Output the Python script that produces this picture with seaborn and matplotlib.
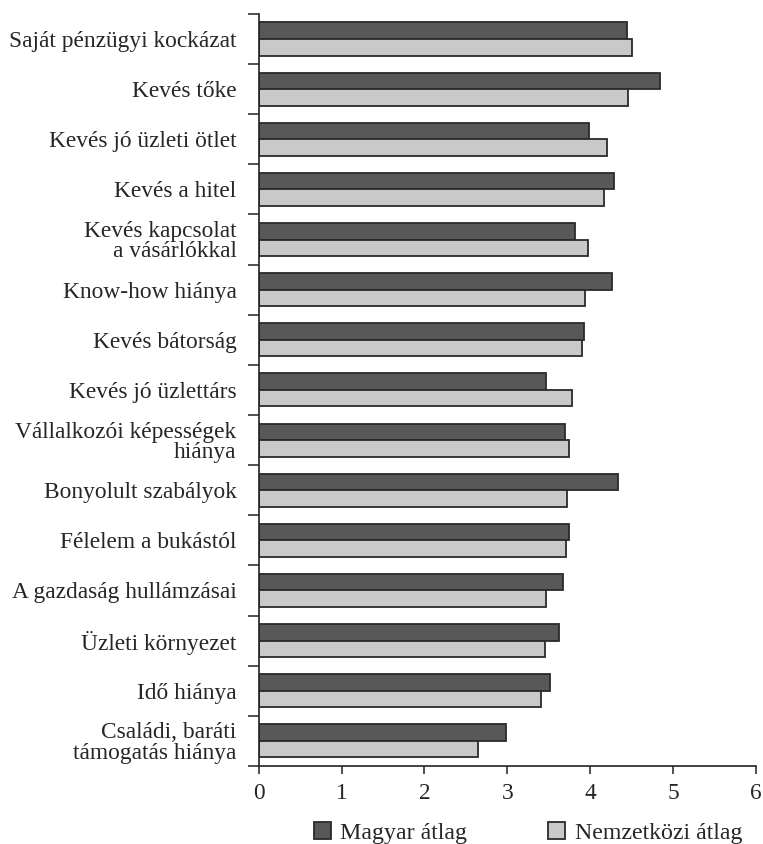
import numpy as np
import pandas as pd
import matplotlib
matplotlib.use("Agg")
import matplotlib.pyplot as plt
from matplotlib.ticker import FixedLocator
import seaborn as sns

categories = [
    "Saját pénzügyi kockázat",
    "Kevés tőke",
    "Kevés jó üzleti ötlet",
    "Kevés a hitel",
    "Kevés kapcsolat\na vásárlókkal",
    "Know-how hiánya",
    "Kevés bátorság",
    "Kevés jó üzlettárs",
    "Vállalkozói képességek\nhiánya",
    "Bonyolult szabályok",
    "Félelem a bukástól",
    "A gazdaság hullámzásai",
    "Üzleti környezet",
    "Idő hiánya",
    "Családi, baráti\ntámogatás hiánya",
]
magyar = [4.44, 4.84, 3.99, 4.28, 3.81, 4.26, 3.92, 3.47, 3.70, 4.33, 3.74, 3.67, 3.62, 3.51, 2.98]
nemzetkozi = [4.50, 4.45, 4.20, 4.17, 3.97, 3.93, 3.90, 3.78, 3.74, 3.72, 3.71, 3.47, 3.45, 3.40, 2.64]
series_names = ["Magyar átlag", "Nemzetközi átlag"]
x_ticks = [0, 1, 2, 3, 4, 5, 6]

df = pd.DataFrame({
    "kategoria": categories * 2,
    "ertek": magyar + nemzetkozi,
    "sorozat": [series_names[0]] * len(categories) + [series_names[1]] * len(categories),
})

sns.set_theme(style="ticks")
plt.rcParams["font.family"] = ["Liberation Serif", "DejaVu Serif"]

fig = plt.figure(figsize=(7.63, 8.44), dpi=100)
ax = fig.add_axes([0.339, 0.0925, 0.652, 0.891])

sns.barplot(
    data=df, y="kategoria", x="ertek", hue="sorozat", orient="h",
    order=categories, hue_order=series_names,
    palette=["#585858", "#c9c9c9"], saturation=1,
    edgecolor="#2a2a2a", linewidth=1.3, width=0.66, gap=0,
    errorbar=None, ax=ax, legend=True,
)

ax.set_xlim(0, 6)
ax.set_ylim(len(categories) - 0.5, -0.5)
ax.set_xticks(x_ticks)
ax.set_xlabel("")
ax.set_ylabel("")
sns.despine(ax=ax)
for sp in ("left", "bottom"):
    ax.spines[sp].set_linewidth(1.2)
    ax.spines[sp].set_color("#222222")

ax.tick_params(axis="x", length=6, width=1.1, color="#222222", labelsize=16.8, pad=6)
ax.tick_params(axis="y", which="major", length=0, labelsize=16.8, pad=16)
ax.yaxis.set_minor_locator(FixedLocator(np.arange(-0.5, len(categories), 1.0)))
ax.tick_params(axis="y", which="minor", length=8, width=1.1, color="#222222")
for lbl in ax.get_yticklabels():
    lbl.set_multialignment("right")
    lbl.set_linespacing(0.95)

handles, labels = ax.get_legend_handles_labels()
ax.get_legend().remove()
fig.legend(
    handles, labels, loc="center", bbox_to_anchor=(0.692, 0.013),
    ncol=2, frameon=False, fontsize=17.2, handlelength=0.7, handleheight=0.7,
    handletextpad=0.4, columnspacing=3.4,
)

fig.savefig("out.png", dpi=100)
